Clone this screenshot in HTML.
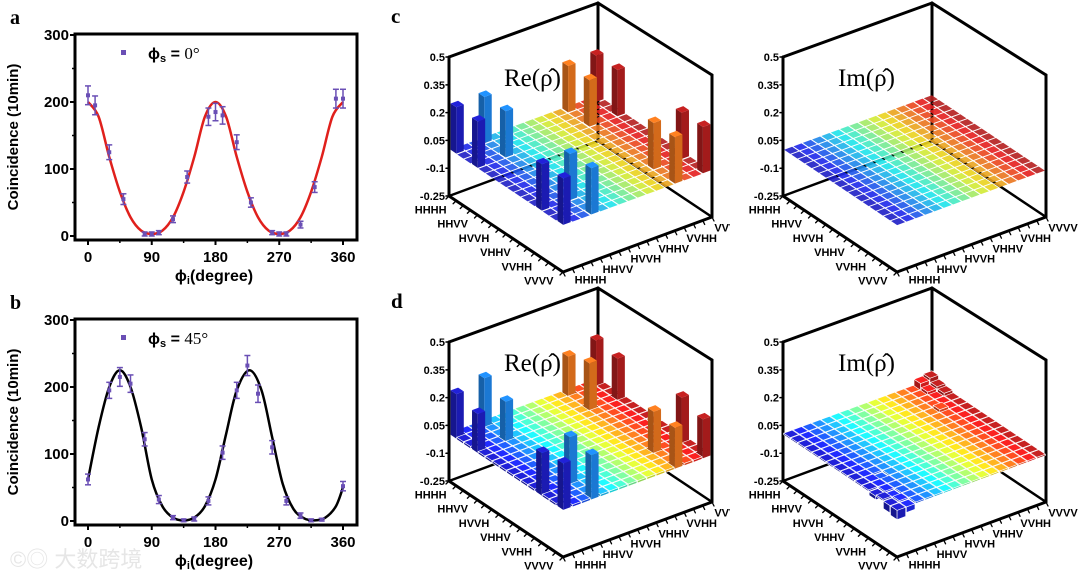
<!DOCTYPE html>
<html><head><meta charset="utf-8"><style>
body{margin:0;background:#fff;}
svg{display:block;font-family:"Liberation Sans",sans-serif;}
</style></head><body>
<svg id="fig" width="1080" height="571" viewBox="0 0 1080 571" xmlns="http://www.w3.org/2000/svg">
<defs>
<clipPath id="clipLeft"><rect x="370" y="0" width="360" height="571"/></clipPath>
<clipPath id="clipRight"><rect x="730" y="0" width="350" height="571"/></clipPath>
</defs>
<text x="10" y="567" font-size="22" fill="#e6e6e6" font-family="'Liberation Sans','Noto Sans CJK SC',sans-serif">©◎ 大数跨境</text>
</svg>
<script>
// ---- Panel a / b data ----
const aX=[0,10,30,50,80,90,100,120,140,170,180,190,210,230,260,270,280,300,320,350,360];
const aY=[210,195,125,55,3,3,5,25,88,178,185,180,140,50,5,3,3,17,73,205,205];
const aErr=[14,14,11,8,3,3,3,5,9,13,13,13,11,7,3,3,3,5,8,14,14];
const aFitX=[0,15,30,45,60,75,90,105,120,135,150,165,180,195,210,225,240,255,270,285,300,315,330,345,360];
const aFitY=[200,178,118,66,28,8,3,8,28,66,118,178,200,178,118,66,28,8,3,8,28,66,118,178,200];
const bX=[0,30,45,60,80,100,120,135,150,170,190,210,225,240,260,280,300,315,330,360];
const bY=[62,195,215,205,122,32,5,1,3,30,102,195,232,190,110,30,8,1,2,52];
const bErr=[8,12,14,13,10,6,3,2,3,6,10,12,15,13,10,6,4,2,2,7];
const bFitX=[0,15,30,45,60,75,90,105,120,135,150,165,180,195,210,228,245,260,275,290,305,320,335,350,360];
const bFitY=[62,140,200,225,200,140,62,22,5,1,5,22,62,130,195,225,195,125,55,18,4,1,5,22,50];
const xTicks=[0,90,180,270,360];
const yTicks=[0,100,200,300];

// ---- Density matrix data ----
const peakIdx=[0,3,12,15];
const reC=[[0.25,0.25,0.25,0.25],[0.25,0.25,0.25,0.25],[0.25,0.25,0.25,0.25],[0.25,0.25,0.25,0.25]];
const reD=[[0.24,0.27,0.22,0.25],[0.21,0.22,0.26,0.23],[0.23,0.26,0.23,0.25],[0.25,0.24,0.22,0.21]];
const reDBase=0.012;
const imDBase=0.0;
const imDBumps=[[15,0,-0.05],[14,0,-0.04],[15,1,-0.03],[13,1,-0.03],[12,0,-0.02],[0,15,0.05],[0,14,0.04],[1,15,0.03],[2,15,0.02],[1,14,0.02],[10,2,-0.02],[4,13,0.02]];
const axisLabels=["HHHH","HHVV","HVVH","VHHV","VVHH","VVVV"];
const axisLabelIdx=[0,3,6,9,12,15];
const zTicks=[0.5,0.35,0.2,0.05,-0.1,-0.25];

const NS="http://www.w3.org/2000/svg";
const svg=document.getElementById('fig');
function el(tag,attrs,parent){const e=document.createElementNS(NS,tag);for(const k in attrs)e.setAttribute(k,attrs[k]);(parent||svg).appendChild(e);return e;}

// ---------- 2D plots ----------
function plot2D(oy,xs,ys,errs,fx,fy,lineColor,legendText,letter,name){
  const g=el('g',{});
  
  
  const x0=88,x1=343,left=75,right=357,top=oy+34,bottom=oy+240;
  const y0=oy+236,y300=oy+35;
  const sx=v=>x0+(v/360)*(x1-x0);
  const sy=v=>y0+(v/300)*(y300-y0);
  const t=el('text',{x:10,y:oy+24,'font-size':20,'font-weight':'bold','font-family':'"Liberation Serif",serif'},g);t.textContent=letter;
  
  const fr=el('rect',{x:left,y:top,width:right-left,height:bottom-top,fill:'none',stroke:'#000','stroke-width':3},g);
  
  xTicks.forEach(v=>{el('line',{x1:sx(v),x2:sx(v),y1:bottom,y2:bottom+5,stroke:'#000','stroke-width':2},g);
    const tx=el('text',{x:sx(v),y:bottom+22,'font-size':15,'font-weight':'bold','text-anchor':'middle'},g);tx.textContent=v;
    });
  for(let v=45;v<360;v+=90)el('line',{x1:sx(v),x2:sx(v),y1:bottom,y2:bottom+3,stroke:'#000','stroke-width':1.5},g);
  yTicks.forEach(v=>{el('line',{x1:left-5,x2:left,y1:sy(v),y2:sy(v),stroke:'#000','stroke-width':2},g);
    const ty=el('text',{x:left-6,y:sy(v)+5,'font-size':15,'font-weight':'bold','text-anchor':'end'},g);ty.textContent=v;
    });
  for(let v=50;v<300;v+=100)el('line',{x1:left-3,x2:left,y1:sy(v),y2:sy(v),stroke:'#000','stroke-width':1.5},g);
  const yl=el('text',{x:0,y:0,'font-size':15,'font-weight':'bold','text-anchor':'middle',transform:`translate(18,${oy+137}) rotate(-90)`},g);yl.textContent='Coincidence (10min)';
  
  const xl=el('text',{x:214,y:oy+281,'font-size':16,'font-weight':'bold','text-anchor':'middle'},g);
  xl.innerHTML='ϕ<tspan font-size="11" dy="3">i</tspan><tspan dy="-3">(degree)</tspan>';
  
  const pts=fx.map((v,i)=>[sx(v),sy(fy[i])]);
  let d=`M${pts[0][0]},${pts[0][1]}`;
  for(let i=0;i<pts.length-1;i++){const p0=pts[Math.max(0,i-1)],p1=pts[i],p2=pts[i+1],p3=pts[Math.min(pts.length-1,i+2)];
    d+=` C${p1[0]+(p2[0]-p0[0])/6},${p1[1]+(p2[1]-p0[1])/6} ${p2[0]-(p3[0]-p1[0])/6},${p2[1]-(p3[1]-p1[1])/6} ${p2[0]},${p2[1]}`;}
  const fit=el('path',{d:d,fill:'none',stroke:lineColor,'stroke-width':2.5},g);
  
  xs.forEach((v,i)=>{const cx=sx(v),cy=sy(ys[i]),e=errs[i]*(y0-y300)/300;
    const pg=el('g',{stroke:'#6a4fb5','stroke-width':1.5},g);
    
    el('line',{x1:cx,x2:cx,y1:cy-e,y2:cy+e},pg);
    el('line',{x1:cx-3,x2:cx+3,y1:cy-e,y2:cy-e},pg);
    el('line',{x1:cx-3,x2:cx+3,y1:cy+e,y2:cy+e},pg);
    el('rect',{x:cx-2,y:cy-2,width:4,height:4,fill:'#6a4fb5',stroke:'none'},pg);});
  const lg=el('g',{},g);
  el('rect',{x:121,y:oy+50,width:5,height:5,fill:'#6a4fb5'},lg);
  const lt=el('text',{x:148,y:oy+59,'font-size':16,'font-weight':'bold'},lg);
  lt.innerHTML='ϕ<tspan font-size="11" dy="3">s</tspan><tspan dy="-3"> = </tspan><tspan font-weight="normal" font-family="Liberation Serif,serif" font-size="17">'+legendText+'</tspan>';
}
plot2D(0,aX,aY,aErr,aFitX,aFitY,'#e0201c','0°','a','panel-a-chart');
plot2D(285,bX,bY,bErr,bFitX,bFitY,'#000','45°','b','panel-b-chart');

// ---------- 3D bar panels ----------
function jet(t){t=0.08+t*0.86;
  const r=Math.min(1,Math.max(0,1.5-Math.abs(4*t-3))),gg=Math.min(1,Math.max(0,1.5-Math.abs(4*t-2))),b=Math.min(1,Math.max(0,1.5-Math.abs(4*t-1)));
  return [r*255*0.8+30,gg*255*0.8+30,b*255*0.8+30];}
function rgb(c,f){return `rgb(${Math.round(Math.min(255,c[0]*f))},${Math.round(Math.min(255,c[1]*f))},${Math.round(Math.min(255,c[2]*f))})`;}

function panel3D(ox,oy,getVal,title,letter,name,clip){
  const g=el('g',{'clip-path':`url(#${clip})`});
  
  const L=[449+ox,196+oy],dF=[114,76],dB=[149,-55],S=185.3;
  const P=(i,j,z)=>[L[0]+i*dF[0]/16+j*dB[0]/16, L[1]+i*dF[1]/16+j*dB[1]/16-(z+0.25)*S];
  const ln=(a,b,w)=>el('line',{x1:a[0],y1:a[1],x2:b[0],y2:b[1],stroke:'#000','stroke-width':w||3,'stroke-linecap':'round'},g);
  const Lc=P(0,0,-0.25),F=P(16,0,-0.25),B=P(0,16,-0.25),R=P(16,16,-0.25);
  const Lt=P(0,0,0.5),Bt=[B[0],B[1]-138],Rt=[R[0],R[1]-142];
  ln(Lc,Lt);ln(Lt,Bt);ln(Bt,B);ln(Bt,Rt);ln(Rt,R);ln(Lc,B,2.5);ln(B,R,2.5);ln(Lc,F);ln(F,R);
  zTicks.forEach(v=>{const p=P(0,0,v);ln([p[0]-3,p[1]],p,1.5);
    const t=el('text',{x:p[0]-4,y:p[1]+4,'font-size':11,'font-weight':'bold','text-anchor':'end'},g);t.textContent=v;
    });
  for(let k=0;k<=16;k++){const a=P(k,0,-0.25),b=P(16,k,-0.25);
    ln(a,[a[0]-3,a[1]+3],1.3);ln(b,[b[0]+2,b[1]+4],1.3);}
  axisLabels.forEach((lab,n)=>{const k=axisLabelIdx[n]+0.5;
    const a=P(k,0,-0.25);const t1=el('text',{x:a[0]-6,y:a[1]+15,'font-size':11,'font-weight':'bold','text-anchor':'end'},g);t1.textContent=lab;
    
    const b=P(16,k,-0.25);const t2=el('text',{x:b[0]+7,y:b[1]+13,'font-size':11,'font-weight':'bold'},g);t2.textContent=lab;
    });
  const cells=[];
  for(let i=0;i<16;i++)for(let j=0;j<16;j++)cells.push([i,j,getVal(i,j)]);
  const flat=cells.filter(c=>Math.abs(c[2])<0.003),bars=cells.filter(c=>Math.abs(c[2])>=0.003);
  flat.forEach(([i,j])=>{const gp=0.07,col=jet(j/15);
    const q=[P(i+gp,j+gp,0),P(i+1-gp,j+gp,0),P(i+1-gp,j+1-gp,0),P(i+gp,j+1-gp,0)];
    const t=el('polygon',{points:q.map(p=>p.join(',')).join(' '),fill:rgb(col,1),'fill-opacity':0.9},g);
    });
  bars.sort((a,b)=>(a[0]-a[1])-(b[0]-b[1]));
  bars.forEach(([i,j,v])=>{const big=Math.abs(v)>0.1,gp=big?0.1:0.04,col=jet(j/15);
    const z0=Math.min(0,v),z1=Math.max(0,v),a=i+gp,b=i+1-gp,c=j+gp,d=j+1-gp;
    const bg=el('g',{stroke:big?'none':'#fff','stroke-width':big?0:0.6},g);
    
    const poly=(pts,f)=>el('polygon',{points:pts.map(p=>p.join(',')).join(' '),fill:rgb(col,f)},bg);
    poly([P(a,c,z0),P(b,c,z0),P(b,c,z1),P(a,c,z1)],0.72);
    poly([P(b,c,z0),P(b,d,z0),P(b,d,z1),P(b,c,z1)],0.9);
    poly([P(a,c,z1),P(b,c,z1),P(b,d,z1),P(a,d,z1)],1.1);});
  const tt=el('text',{x:L[0]+55,y:L[1]-110,'font-size':25,'font-family':'"Liberation Serif",serif'},g);
  tt.textContent=title;
  if(letter){const lt=el('text',{x:L[0]-58,y:L[1]-173,'font-size':21,'font-weight':'bold','font-family':'"Liberation Serif",serif'},g);
    lt.textContent=letter;}
}
const pk=(m,i,j)=>{const a=peakIdx.indexOf(i),b=peakIdx.indexOf(j);return (a>=0&&b>=0)?m[a][b]:null;};
panel3D(0,0,(i,j)=>{const p=pk(reC,i,j);return p===null?0:p;},'Re(ρ̂)','c','panel-c-real','clipLeft');
panel3D(334,0,(i,j)=>0,'Im(ρ̂)','','panel-c-imag','clipRight');
panel3D(0,285,(i,j)=>{const p=pk(reD,i,j);return p===null?reDBase:p;},'Re(ρ̂)','d','panel-d-real','clipLeft');
panel3D(334,285,(i,j)=>{const f=imDBumps.find(b=>b[0]===i&&b[1]===j);return f?f[2]:(imDBase+0.008);},'Im(ρ̂)','','panel-d-imag','clipRight');
</script>
</body></html>
